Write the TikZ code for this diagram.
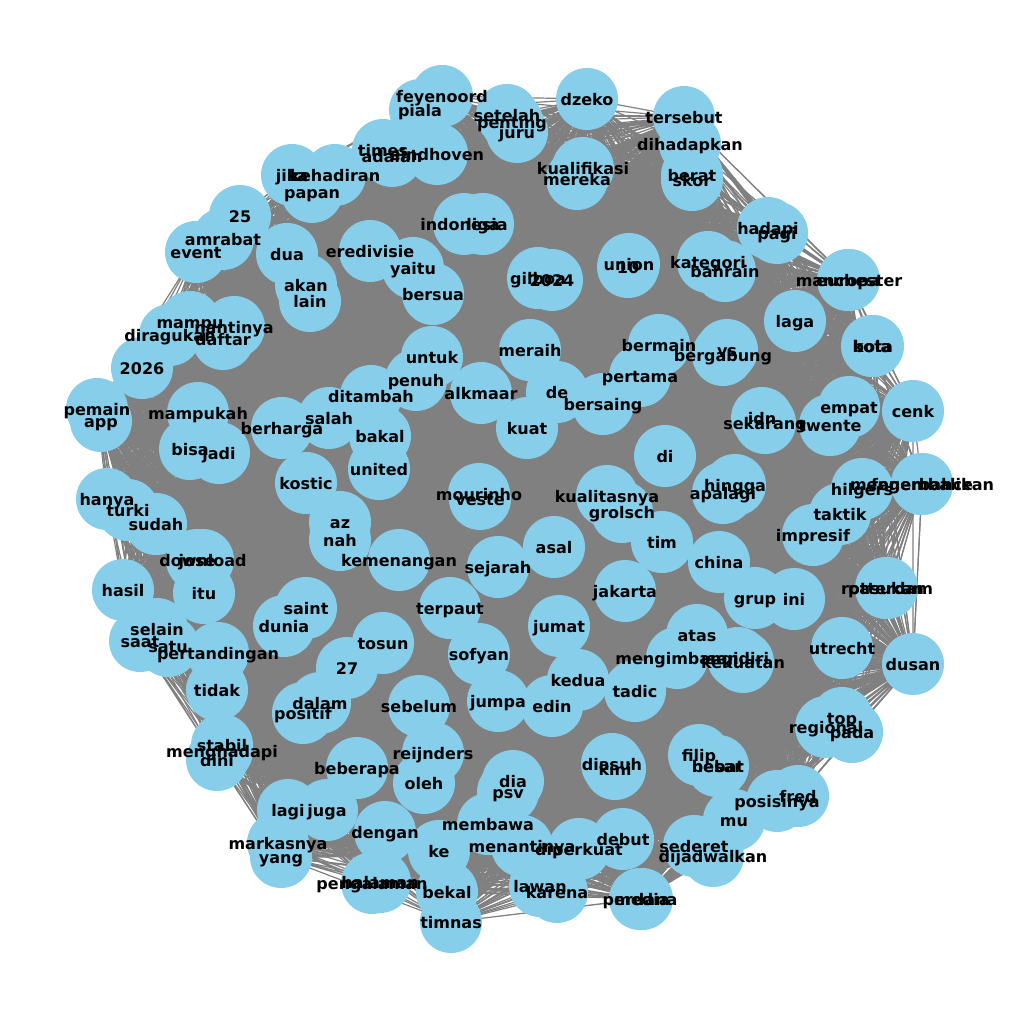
\documentclass[tikz,border=0pt]{standalone}
\usepackage{fontspec}
\setmainfont{DejaVu Sans}
\usetikzlibrary{backgrounds}
\definecolor{skyblue}{RGB}{135,206,235}
\definecolor{edgegray}{RGB}{128,128,128}
\tikzset{
  dot/.style={circle,fill=skyblue,draw=none,minimum size=46.5pt,inner sep=0pt},
  lbl/.style={font=\bfseries\fontsize{12}{12}\selectfont,text=black,inner sep=0pt,text height=0.76em,text depth=0.23em,yshift=-1.9pt},
  edge/.style={draw=edgegray,line width=0.9pt}
}
\def\nodelist{feyenoord/442/96,piala/420/110,setelah/507/115,penting/512/122,juru/517/132,dzeko/587/99,tersebut/684/117,dihadapkan/690/144,berat/692/175,skor/692/180,times/383/150,adalah/392/156,eindhoven/437/154,jika/292/175,kehadiran/335/175,papan/312/192,kualifikasi/583/168,mereka/577/179,25/240/216,amrabat/223/239,event/196/252,dua/287/254,akan/306/285,lain/310/301,eredivisie/370/251,yaitu/413/268,bersua/433/294,indonesia/464/224,liga/483/224,gilboa/538/278,2024/552/280,union/629/264,10/628/267,kategori/708/262,bahrain/725/271,hadapi/768/228,pagi/777/233,manchester/849/280,europa/848/280,laga/795/321,bola/872/346,kota/873/346,mampu/190/322,nantinya/234/327,diragukan/170/335,daftar/223/339,2026/142/368,pemain/97/409,app/101/421,mampukah/198/413,bisa/190/449,jadi/219/453,berharga/282/428,salah/329/418,ditambah/371/396,bakal/380/436,united/379/469,kostic/306/483,untuk/432/357,penuh/416/380,alkmaar/481/393,meraih/530/350,de/557/392,bersaing/603/404,kuat/527/428,bermain/659/345,pertama/640/376,bergabung/723/355,vs/727/350,di/665/456,idn/762/418,sekarang/765/423,twente/830/425,empat/849/407,cenk/913/411,hingga/735/485,apalagi/723/493,hilgers/862/489,fenerbahce/922/484,mengembalikan/922/484,taktik/840/514,impresif/813/535,az/340/522,nah/340/540,kemenangan/399/560,mourinho/479/494,veste/480/499,kualitasnya/607/496,grolsch/622/512,tim/662/542,asal/554/547,sejarah/498/567,jakarta/625/591,terpaut/450/608,hanya/107/499,turki/128/510,sudah/156/524,jose/197/560,download/203/560,hasil/123/590,itu/204/593,selain/157/629,saat/140/641,satu/168/646,pertandingan/218/653,saint/306/608,dunia/284/626,tosun/383/643,27/347/668,sofyan/479/654,jumat/559/626,china/719/562,grup/755/598,ini/794/599,rotterdam/887/588,pasukan/886/588,atas/697/635,mengimbangi/677/658,sendiri/738/658,kekuatan/743/662,utrecht/842/648,dusan/913/664,kedua/578/680,tadic/635/691,edin/552/706,jumpa/498/701,tidak/217/690,dalam/320/703,positif/303/713,sebelum/419/706,reijnders/433/753,oleh/424/783,menghadapi/222/751,stabil/222/745,dini/217/760,beberapa/357/768,regional/826/727,top/842/718,pada/852/732,filip/699/755,besar/717/766,hebat/718/766,diasuh/612/764,kini/615/769,dia/513/781,psv/508/792,posisinya/777/801,fred/798/796,mu/734/820,lagi/288/810,juga/327/810,markasnya/278/843,yang/281/857,dengan/385/832,membawa/488/824,ke/439/851,menantinya/522/846,diperkuat/579/849,debut/623/839,sederet/694/846,dijadwalkan/713/856,pengalaman/372/883,halaman/380/882,bekal/447/892,timnas/451/922,lawan/540/886,karena/557/892,perdana/640/899,media/642/899}
\begin{document}
\begin{tikzpicture}[x=0.75pt,y=-0.75pt]
\useasboundingbox (0,0) rectangle (1019,1019);
% node circles
\foreach \t/\px/\py [count=\k] in \nodelist {
  \node[dot] (c\k) at (\px,\py) {};
  \xdef\N{\k}
}
% connectors (complete graph) behind the circles
\begin{scope}[on background layer]
  \pgfmathtruncatemacro\M{\N-1}
  \foreach \i in {1,...,\M} {
    \pgfmathtruncatemacro\nx{\i+1}
    \draw[edge] \foreach \j in {\nx,...,\N} {(c\i.center) -- (c\j.center)};
  }
\end{scope}
% labels on top
\foreach \t/\px/\py [count=\k] in \nodelist {
  \node[lbl] (l\k) at (c\k) {\t};
}
\end{tikzpicture}
\end{document}
